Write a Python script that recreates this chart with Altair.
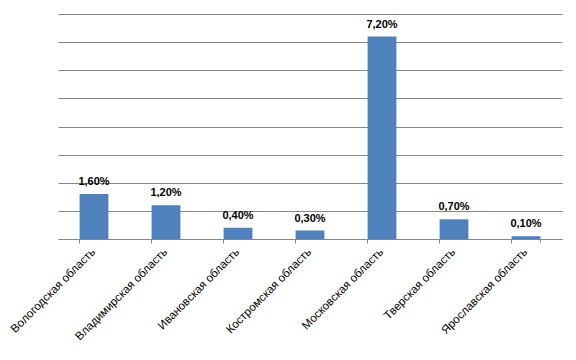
import altair as alt
import pandas as pd

regions = ["Вологодская область", "Владимирская область", "Ивановская область",
           "Костромская область", "Московская область", "Тверская область",
           "Ярославская область"]
values = [1.6, 1.2, 0.4, 0.3, 7.2, 0.7, 0.1]

df = pd.DataFrame({
    "region": regions,
    "value": values,
    "label": [f"{v:.2f}%".replace(".", ",") for v in values],
})

W, H = 504, 225
xscale = alt.Scale(domain=regions, paddingInner=0.6, paddingOuter=0.3)
yscale = alt.Scale(domain=[0, 8], nice=False)

xaxis = alt.Axis(bandPosition=0, labelAngle=-45,
                 labelAlign="right", labelBaseline="middle",
                 labelPadding=7, labelFont="Liberation Sans",
                 labelFontSize=11.6, labelColor="#000000",
                 domainColor="#868686", tickColor="#868686",
                 tickSize=4, grid=False, labelOverlap=False, title=None)
yaxis = alt.Axis(values=[0, 1, 2, 3, 4, 5, 6, 7, 8], labels=False,
                 ticks=False, domain=False, grid=True,
                 gridColor="#868686", gridOpacity=1, gridWidth=1, title=None)

xenc = alt.X("region:N", sort=regions, scale=xscale, axis=xaxis)
yenc = alt.Y("value:Q", scale=yscale, axis=yaxis)

base = alt.Chart(df)

bars = base.mark_bar(color="#4F81BD").encode(x=xenc, y=yenc)

text = base.mark_text(font="Liberation Sans", fontSize=11, fontWeight="bold",
                      color="#000000", dy=-12).encode(
    x=xenc, y=yenc, text="label:N")

end_tick = alt.Chart(pd.DataFrame({"region": [regions[-1]]})).mark_rule(
    color="#868686").encode(
    x=alt.X("region:N", sort=regions, scale=xscale, axis=xaxis, bandPosition=1),
    y=alt.value(H), y2=alt.value(H + 4),
)

chart = alt.layer(bars, text, end_tick).properties(
    width=W, height=H,
    background="white",
    autosize=alt.AutoSizeParams(type="none"),
    padding={"left": 50, "top": 6, "right": 4, "bottom": 108},
).configure_view(stroke=None)

chart.save("out.html", embed_options={"renderer": "svg", "actions": False})
